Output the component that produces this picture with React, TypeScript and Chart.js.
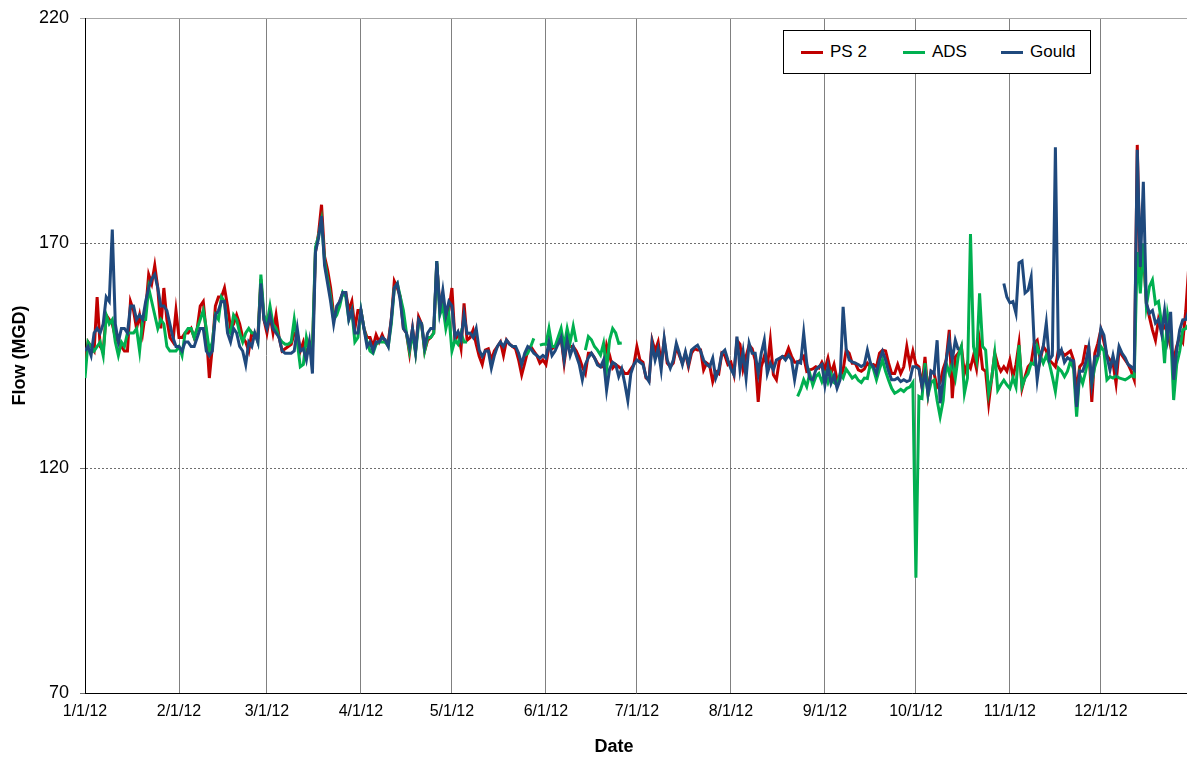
import React, { useEffect, useRef } from "react";
import { Chart, registerables } from "chart.js";

Chart.register(...registerables);

const N = null;
const FONT = "'Liberation Sans', Arial, sans-serif";

// Day index (0 = 1/1/12) of each month start, and the tick labels
const MONTH_STARTS = [0, 31, 60, 91, 121, 152, 182, 213, 244, 274, 305, 335];
const MONTH_LABELS = ["1/1/12", "2/1/12", "3/1/12", "4/1/12", "5/1/12", "6/1/12", "7/1/12", "8/1/12", "9/1/12", "10/1/12", "11/1/12", "12/1/12"];
const Y_TICKS = [70, 120, 170, 220];
const X_MAX_DAY = 363.4;

// Daily flow (MGD), one inner list per month
const PS2 = [
  [144,148,147,146,158,147,146,154,153,152,149,148,147,146,146,157,155,151,154,150,155,163,161,165,160,151,160,153,149,148,155],
  [149,149,150,150,151,149,151,156,157,150,140,147,156,158,158,160,156,151,152,154,152,149,148,146,150,149,149,162,153],
  [150,154,150,154,149,146,146.5,147,147.5,150,150,146,148,145,148,146,168,172,178.5,167,164,160,154,155,157,159,159,155,157,151,155],
  [155,151,149,149,147,149.6,148,149.6,148,148,153,161.5,160,158,151,150,145.5,151,146,153.6,152,146,148.4,149,150,165.5,156,157,153,155],
  [160,148.4,150,146.6,156.6,148.4,149,150.7,147.5,144.8,143,146.2,146.5,144,146,147,148,145,148.4,147.5,147,146.5,144,140.7,143.3,146,147,146,145,143.3,144],
  [143,147,146.5,147,147.5,149,143.3,148.4,147,147,146,144.5,142.5,141,145.5,145.5,144.5,143.3,142.5,142.5,147.3,145,142.2,143,142.5,142,141,141,142,143],
  [147,144,143.5,140,139.5,148.4,146,148,143.3,148.4,143.3,142.5,143.3,147,145,143.3,145.5,142.5,145.5,146.5,146.2,146.2,141.8,143.3,142.8,139.2,141.5,141,145.5,145,143],
  [143.5,140.8,148.4,147.5,142,144.8,147.3,146.5,144,134.7,142.5,144.8,142.5,148.4,140.7,139.6,144,144.8,144.8,146.6,144.8,143.5,143.5,144,144.8,141.5,141.8,142,142.5,142.2,143.5],
  [142,144.4,141,143,139.6,140,141.8,146.2,145.5,143.3,143.3,141.8,141.5,142,143.3,142.5,143,142.5,145.5,146.2,146,143.3,141,141,143,141,142.5,147,143,146],
  [143,142.5,138.1,144.7,136.6,141.5,141,138,139,142,144,150.7,135.5,144.7,145.5,147,141,143.3,142.2,145,142,148,142,141.5,134.4,140,145.5,143,141.5,142.5,141.5],
  [144,140.3,143,147.7,137.7,140.3,142.5,143.3,147.7,148.4,144,147,146,144,143.3,142.5,146.2,146,145,145.5,146,144,137,142.5,143.3,147,146.9,134.7,145.5,147.7],
  [150.7,148,145,144,143.3,138.8,146.2,145,144,143,141.5,139.6,191.8,162,168,156.6,153.6,150.7,148.4,153,150.7,151.5,150,147,144,147,149.2,148,155,165,150],
];

const ADS = [
  [140,148,147,146,147,148,145,154,152,153,148,145,148,147,150,150,150,151,146,153,153,160,157,154,151,153,152,147,146,146,146],
  [147,145,150,151,151,149,151,153,155,151,146,148,154,153,158,157,151,150,154,153,150,148,150,151,150,150,148,163,154],
  [152,156,152,151,149,148,147.5,147.5,148,153,148,142.5,143,149,146,147,169,171.5,175,166,162,158,153,154,156,159,158,153,155,148,149],
  [155,151,148,146,145.5,147.5,148,148,148,147,152,160,161,158,155,150,146,150,145.5,152,152,146,149,149,150,166,154,156,151,154],
  [146,148.4,147.5,150,148,148,N,N,N,N,N,N,N,N,N,N,N,N,N,N,N,N,N,N,145,145.5,147,148.8,N,147.3,147.5],
  [147.5,151,147,147,149,151,147,151,148,151.5,148,N,N,146.2,149.2,148.5,147,146.2,145.1,147.7,141.8,148.5,151,150,147.7,147.8,N,N,N,N],
  [N,N,N,N,N,N,N,N,N,N,N,N,N,N,N,N,N,N,N,N,N,N,N,N,N,N,N,N,N,N,N],
  [N,N,N,N,N,N,N,N,N,N,N,N,N,N,N,N,N,N,N,N,N,N,135.9,137.5,139.6,138.1,141,138.4,140.3,141,139.2],
  [141,139,141,139,138.5,141,140,142,141,140,140.5,139.5,139,140,139.9,143.3,142,139.6,142,144,141.5,139.5,137.7,136.6,137,137.5,137,137.7,138,139],
  [95.6,135.9,135.5,143.3,136.2,139,139.5,135,131.4,135,143.3,141,143.3,140,145,147,136.6,140,172,147,144,158.8,147,146.2,136.6,140,145.5,137.3,138.5,139.5,138.5],
  [137.7,140,138,147.3,138.1,140,141,143.3,143,147,145,143.3,145,143.3,140.3,137,142.2,141.5,140.3,141.5,143.8,142,131.4,140.8,138.8,141.5,145,138.8,142.5,144.5],
  [147,146,139.6,140.3,140,140.5,140,139.8,139.6,140,140.5,140.3,168,158.8,169.9,156,160.3,161.8,156.5,157,152.2,143.3,154,150,135.1,143,146,150.7,151,152,152],
];

const GOULD = [
  [146,147,145,150,151,150,152,158,157,173,152,148,151,151,150,156,156,153,154,153,157,160,162,163,160,156,156,155,152,149,147],
  [147,146,148,148,147,147,149,151,151,146,145,146,154,155,157,157,150,148,151,150,147,146,143,148,147,150,148,161,153],
  [151,154,151,150,149,146,145.5,145.5,145.5,146,151,146,146.5,144,148,141,168,171,176,165,161,157,152,156,157,159,159,153,155,150,150],
  [155,151,147,148,146,148,148,149,148.5,147,153,160,161,157,151,150,147,151,146,153,152,147,150,151,151,166,155,159.5,154,157],
  [156,149.2,150.3,148.5,154,149.9,150,149,151,146.2,144.8,146,146,142.2,145,147,148,147,148.4,147.5,147,147,145.5,143,145.5,147,146.5,145.5,145,144.4,145],
  [144.5,148,145,146,147.5,149,144,148.4,145,147,145,143,139.6,143,144.5,145.5,144.5,142.9,142.5,144,137.3,142,143.5,143,140.3,142,138.8,135,141,143],
  [144,143.5,143,140.3,139.2,147.7,144,146.5,141.8,148.8,144,142.2,144,147.7,145.5,143,145.8,143,146.2,146.8,147.3,146,144,143,142.5,144.4,140,141.8,145.5,146.2,144],
  [142,140.7,149.2,141.8,145.9,140,147.7,145.5,145.5,141,145.5,148.4,141,143.3,141.8,144,144.4,144.8,144,145.1,144,139.6,143.6,143.3,150,143.3,139.9,139.6,141.8,142.5,143],
  [138.4,142.5,138.8,140.5,137.7,139.6,155.8,146.6,144,143.6,143.3,143,142.5,143,146.2,143.3,142.5,141,144,145.9,144,141.5,139.6,139.6,140,139.2,139.6,139.2,139.5,142.5],
  [142.5,142,138.1,141,136.6,141.5,141,148.4,134.4,139.5,144,148.4,144,148.4,146.2,N,N,N,N,N,N,N,N,N,N,N,N,N,N,161,158],
  [156.7,157,154.4,165.6,166,158.9,159.5,162.4,147.8,139.6,144.7,147,152.2,144,145,191.3,144.7,146.2,143.5,144.5,144,143.8,133.6,141.5,141.5,143.5,146.9,139,144.7,145],
  [151,149.5,144.8,141.8,145,141.8,147,145.5,144.5,143,142.5,141.8,190.7,164.7,183.6,156.6,154.4,155,152.2,153,149.9,155,149,154.7,139.6,146.2,150.7,152.9,153,155,155],
];

const SERIES = [
  { label: "PS 2", data: PS2, color: "#C00000", order: 3 },
  { label: "ADS", data: ADS, color: "#00B050", order: 2 },
  { label: "Gould", data: GOULD, color: "#1F497D", order: 1 },
];

function toPoints(months: (number | null)[][]) {
  const pts: { x: number; y: number | null }[] = [];
  months.forEach((month, m) => {
    month.forEach((v, i) => pts.push({ x: MONTH_STARTS[m] + i, y: v }));
  });
  return pts;
}

export default function App() {
  const canvasRef = useRef<HTMLCanvasElement | null>(null);

  useEffect(() => {
    if (!canvasRef.current) return;
    const chart = new Chart(canvasRef.current, {
      type: "line",
      data: {
        datasets: SERIES.map((s) => ({
          label: s.label,
          data: toPoints(s.data) as any,
          borderColor: s.color,
          backgroundColor: s.color,
          borderWidth: 3,
          pointRadius: 0,
          tension: 0,
          spanGaps: false,
          order: s.order,
        })),
      },
      options: {
        animation: false,
        responsive: false,
        maintainAspectRatio: false,
        layout: { padding: { top: 18, right: 0, left: 0, bottom: 0 } },
        plugins: { legend: { display: false }, tooltip: { enabled: false } },
        scales: {
          x: {
            type: "linear",
            min: 0,
            max: X_MAX_DAY,
            afterBuildTicks: (s: any) => {
              s.ticks = MONTH_STARTS.map((v) => ({ value: v }));
            },
            afterFit: (s: any) => {
              s.height = 64;
              s.paddingLeft = 0;
              s.paddingRight = 0;
            },
            ticks: {
              autoSkip: false,
              maxRotation: 0,
              padding: 9,
              color: "#000",
              font: { family: FONT, size: 16 },
              callback: (v: any) => {
                const idx = MONTH_STARTS.indexOf(Number(v));
                return idx >= 0 ? MONTH_LABELS[idx] : "";
              },
            },
            grid: { color: "#808080", lineWidth: 1, drawTicks: false },
            border: { display: true, color: "#000", width: 1 },
            title: { display: false },
          },
          y: {
            type: "linear",
            min: 70,
            max: 220,
            afterBuildTicks: (s: any) => {
              s.ticks = Y_TICKS.map((v) => ({ value: v }));
            },
            afterFit: (s: any) => {
              s.width = 85;
              s.paddingTop = 0;
              s.paddingBottom = 0;
            },
            ticks: {
              padding: 11,
              color: "#000",
              font: { family: FONT, size: 18 },
            },
            grid: {
              color: (c: any) => (c.tick && c.tick.value === 220 ? "#a6a6a6" : "#6e6e6e"),
              lineWidth: 1,
              drawTicks: true,
              tickLength: 5,
            },
            border: {
              display: true,
              color: "#000",
              width: 1,
              dash: (c: any) => (c.tick && c.tick.value === 220 ? [] : [2, 2]),
            },
            title: {
              display: true,
              text: "Flow (MGD)",
              color: "#000",
              font: { family: FONT, size: 18, weight: "bold" },
              padding: { top: 9, bottom: 0 },
            },
          },
        },
      } as any,
    });
    return () => chart.destroy();
  }, []);

  const legendItem = (left: number, color: string, label: string) => (
    <div key={label} style={{ position: "absolute", left, top: 0, height: 42, display: "flex", alignItems: "center" }}>
      <div style={{ width: 22, height: 3, background: color, marginRight: 7 }} />
      <span style={{ fontFamily: FONT, fontSize: 17, color: "#000" }}>{label}</span>
    </div>
  );

  return (
    <div style={{ position: "absolute", left: 0, top: 0, width: 1187, height: 757, background: "#fff", overflow: "hidden" }}>
      <canvas ref={canvasRef} width={1187} height={757} style={{ display: "block", width: 1187, height: 757 }} />
      <div
        style={{
          position: "absolute",
          left: 783,
          top: 30,
          width: 306,
          height: 42,
          border: "1px solid #000",
          background: "#fff",
        }}
      >
        {legendItem(17, SERIES[0].color, SERIES[0].label)}
        {legendItem(119, SERIES[1].color, SERIES[1].label)}
        {legendItem(217, SERIES[2].color, SERIES[2].label)}
      </div>
      <div
        style={{
          position: "absolute",
          left: 514,
          top: 737,
          width: 200,
          textAlign: "center",
          fontFamily: FONT,
          fontSize: 18,
          fontWeight: "bold",
          lineHeight: "18px",
          color: "#000",
        }}
      >
        Date
      </div>
    </div>
  );
}
